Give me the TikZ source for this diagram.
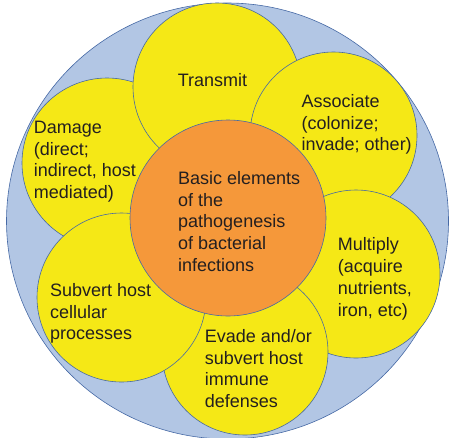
\documentclass[tikz,border=0pt]{standalone}
\usepackage{fontspec}
\setmainfont{Liberation Sans}
\usetikzlibrary{shapes.geometric}
\definecolor{bluefill}{RGB}{178,198,228}
\definecolor{edgecol}{RGB}{70,105,165}
\definecolor{yel}{RGB}{245,232,22}
\definecolor{org}{RGB}{245,152,58}
\definecolor{txt}{RGB}{35,31,32}
\begin{document}
\begin{tikzpicture}[x=1pt,y=-1pt,
  petal/.style={circle,draw=edgecol,line width=0.6pt,fill=yel,minimum size=#1,inner sep=0pt},
  lbl/.style={anchor=north west,inner sep=0pt,align=left,text=txt,font=\fontsize{18}{21.8}\selectfont}]
\useasboundingbox (0,0) rectangle (449,437);
\node[ellipse,draw=edgecol,line width=0.6pt,fill=bluefill,minimum width=442pt,minimum height=436pt,inner sep=0pt] (outer) at (227.5,221) {};
\node[petal=170pt] (damage) at (107,163) {};
\node[petal=168pt] (transmit) at (217,87) {};
\node[petal=167pt] (associate) at (333.5,135.5) {};
\node[petal=168pt] (multiply) at (356,274) {};
\node[petal=166pt] (evade) at (245,352) {};
\node[petal=169pt] (subvert) at (121.5,297.5) {};
\node[circle,draw=edgecol,line width=0.6pt,fill=org,minimum size=196pt,inner sep=0pt] (core) at (228,218) {};
\node[lbl] (tTransmit) at (177.6,72) {\rule{0pt}{14pt}Transmit};
\node[lbl] (tAssociate) at (301.5,93) {\rule{0pt}{14pt}Associate\\(colonize;\\invade; other)};
\node[lbl] (tDamage) at (33.6,119) {\rule{0pt}{14pt}Damage\\(direct;\\indirect, host\\mediated)};
\node[lbl] (tCore) at (178,170) {\rule{0pt}{14pt}Basic elements\\of the\\pathogenesis\\of bacterial\\infections};
\node[lbl] (tMultiply) at (337.7,236.5) {\rule{0pt}{14pt}Multiply\\(acquire\\nutrients,\\iron, etc)};
\node[lbl] (tSubvert) at (50,282) {\rule{0pt}{14pt}Subvert host\\cellular\\processes};
\node[lbl] (tEvade) at (204.6,328) {\rule{0pt}{14pt}Evade and/or\\subvert host\\immune\\defenses};
\end{tikzpicture}
\end{document}
